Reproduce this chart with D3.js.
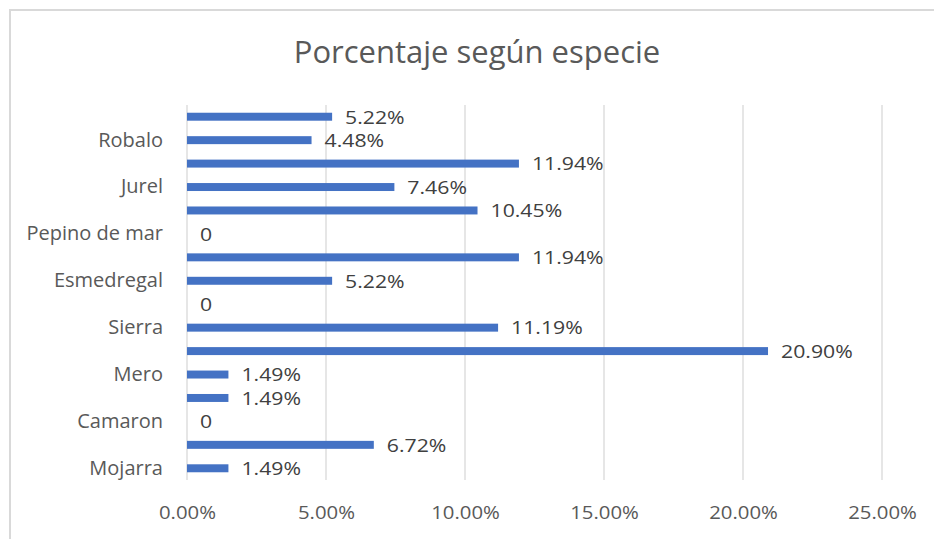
<!DOCTYPE html>
<html>
<head>
<meta charset="utf-8">
<script src="https://cdn.jsdelivr.net/npm/d3@7"></script>
<style>
  html, body { margin: 0; padding: 0; background: #fff; }
  svg { display: block; font-family: "Open Sans", "Noto Sans", sans-serif; }
</style>
</head>
<body>
<div id="chart"></div>
<script>
// categories listed bottom to top; only every other one carries a visible label
const categories = [
  "Mojarra", "cat2", "Camaron", "cat4", "Mero", "cat6", "Sierra", "cat8",
  "Esmedregal", "cat10", "Pepino de mar", "cat12", "Jurel", "cat14", "Robalo", "cat16"
];
const shownLabels = ["Mojarra", "Camaron", "Mero", "Sierra", "Esmedregal", "Pepino de mar", "Jurel", "Robalo"];
const values = [1.49, 6.72, 0, 1.49, 1.49, 20.90, 11.19, 0, 5.22, 11.94, 0, 10.45, 7.46, 11.94, 4.48, 5.22];
const xTicks = [0, 5, 10, 15, 20, 25];

const W = 934, H = 539;
const plotLeft = 187, plotRight = 882, plotTop = 105, plotBottom = 480;

const svg = d3.select("#chart").append("svg")
  .attr("width", W)
  .attr("height", H);

// frame
svg.append("path")
  .attr("d", `M10,${H} V10 H${W}`)
  .attr("fill", "none")
  .attr("stroke", "#d9d9d9")
  .attr("stroke-width", 2);

svg.append("text")
  .attr("x", 477)
  .attr("y", 63)
  .attr("text-anchor", "middle")
  .attr("font-size", 31)
  .attr("fill", "#595959")
  .text("Porcentaje según especie");

const x = d3.scaleLinear().domain([0, 25]).range([plotLeft, plotRight]);
const y = d3.scaleBand()
  .domain(categories)
  .range([plotBottom, plotTop])
  .paddingInner(0.66)
  .paddingOuter(0.33);

// gridlines
svg.append("g")
  .selectAll("line")
  .data(xTicks)
  .enter()
  .append("line")
  .attr("x1", d => x(d))
  .attr("x2", d => x(d))
  .attr("y1", plotTop)
  .attr("y2", plotBottom)
  .attr("stroke", "#d9d9d9")
  .attr("stroke-width", 1.3);

// stretch a text to a share of its natural width (the picture's font is wider)
function fitWidth(sel, k) {
  sel.each(function () {
    const len = this.getComputedTextLength();
    d3.select(this).attr("textLength", len * k).attr("lengthAdjust", "spacingAndGlyphs");
  });
}

// x axis
const xAxis = svg.append("g")
  .attr("transform", `translate(0,${plotBottom})`)
  .call(d3.axisBottom(x).tickValues(xTicks).tickSize(0).tickPadding(26)
    .tickFormat(d => d.toFixed(2) + "%"));
xAxis.select(".domain").remove();
xAxis.selectAll("text")
  .attr("font-size", 18)
  .attr("fill", "#595959")
  .attr("font-family", "Open Sans, sans-serif")
  .call(fitWidth, 1.13);

// y axis
const yAxis = svg.append("g")
  .attr("transform", `translate(${plotLeft},0)`)
  .call(d3.axisLeft(y).tickValues(shownLabels).tickSize(0).tickPadding(24));
yAxis.select(".domain").remove();
yAxis.selectAll("text")
  .attr("font-size", 20)
  .attr("fill", "#595959")
  .attr("font-family", "Open Sans, sans-serif");

// bars
svg.append("g")
  .selectAll("rect")
  .data(values)
  .enter()
  .append("rect")
  .attr("x", x(0))
  .attr("y", (d, i) => y(categories[i]))
  .attr("width", d => x(d) - x(0))
  .attr("height", y.bandwidth())
  .attr("fill", "#4472c4");

// data labels
svg.append("g")
  .selectAll("text")
  .data(values)
  .enter()
  .append("text")
  .attr("x", d => x(d) + 13)
  .attr("y", (d, i) => y(categories[i]) + y.bandwidth() / 2)
  .attr("dy", "0.38em")
  .attr("font-size", 18)
  .attr("fill", "#404040")
  .text(d => d === 0 ? "0" : d.toFixed(2) + "%")
  .call(fitWidth, 1.18);
</script>
</body>
</html>
